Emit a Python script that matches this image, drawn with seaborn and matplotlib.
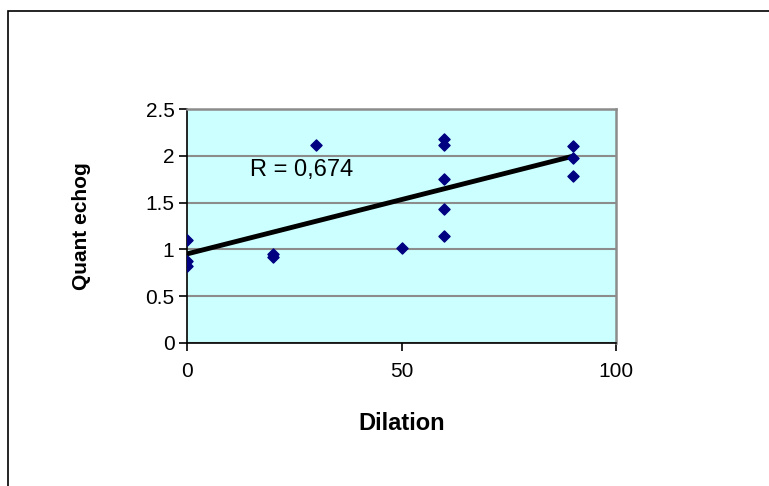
import numpy as np
import pandas as pd
import matplotlib
matplotlib.use("Agg")
import matplotlib.pyplot as plt
from matplotlib.patches import Rectangle
import seaborn as sns

# Data
dilation = [0, 0, 0, 20, 20, 30, 50, 60, 60, 60, 60, 60, 90, 90, 90]
quant_echog = [1.10, 0.88, 0.82, 0.95, 0.92, 2.115, 1.02,
               2.18, 2.115, 1.755, 1.43, 1.14, 2.10, 1.98, 1.78]
x_ticks = [0, 50, 100]
y_ticks = [0, 0.5, 1, 1.5, 2, 2.5]
r_label = "R = 0,674"

sns.set_style("white")
plt.rcParams['font.family'] = ['Liberation Sans', 'DejaVu Sans']
plt.rcParams['text.color'] = 'black'
plt.rcParams['axes.labelcolor'] = 'black'
plt.rcParams['xtick.color'] = 'black'
plt.rcParams['ytick.color'] = 'black'

df = pd.DataFrame({"Dilation": dilation, "Quant echog": quant_echog})

fig = plt.figure(figsize=(7.69, 4.86), dpi=100)
ax = fig.add_axes([187 / 769, 1 - 343 / 486, 429 / 769, 234 / 486])
ax.set_facecolor("#ccffff")

sns.regplot(data=df, x="Dilation", y="Quant echog", ax=ax, ci=None,
            truncate=True, color="#000080", marker="D",
            scatter_kws=dict(s=32, alpha=1, zorder=4),
            line_kws=dict(color="black", linewidth=3.5, zorder=3))

ax.set_xlim(0, 100)
ax.set_ylim(0, 2.5)
ax.set_xticks(x_ticks)
ax.set_yticks(y_ticks)
ax.set_yticklabels([f"{t:g}" for t in y_ticks])
ax.yaxis.grid(True, color="#8c8c8c", linewidth=1.5)
ax.set_axisbelow(True)

for side in ["top", "right"]:
    ax.spines[side].set_color("#8c8c8c")
    ax.spines[side].set_linewidth(1.8)
for side in ["left", "bottom"]:
    ax.spines[side].set_color("black")
    ax.spines[side].set_linewidth(1.2)

ax.tick_params(axis="both", direction="out", length=6, width=1.2,
               labelsize=15, color="black", labelcolor="black",
               bottom=True, left=True)
ax.tick_params(axis="x", pad=8)
ax.tick_params(axis="y", pad=3)

ax.set_xlabel("Dilation", fontsize=17, fontweight="bold", labelpad=22)
ax.set_ylabel("Quant echog", fontsize=15, fontweight="bold", labelpad=39)

ax.text(14.6, 1.85, r_label, fontsize=17, va="center", ha="left")

fig.patches.append(Rectangle((8 / 769, -0.1), 1.0, 1 - 11 / 486 + 0.1,
                             transform=fig.transFigure, fill=False,
                             edgecolor="black", linewidth=1.2))

fig.savefig("out.png", dpi=100)
